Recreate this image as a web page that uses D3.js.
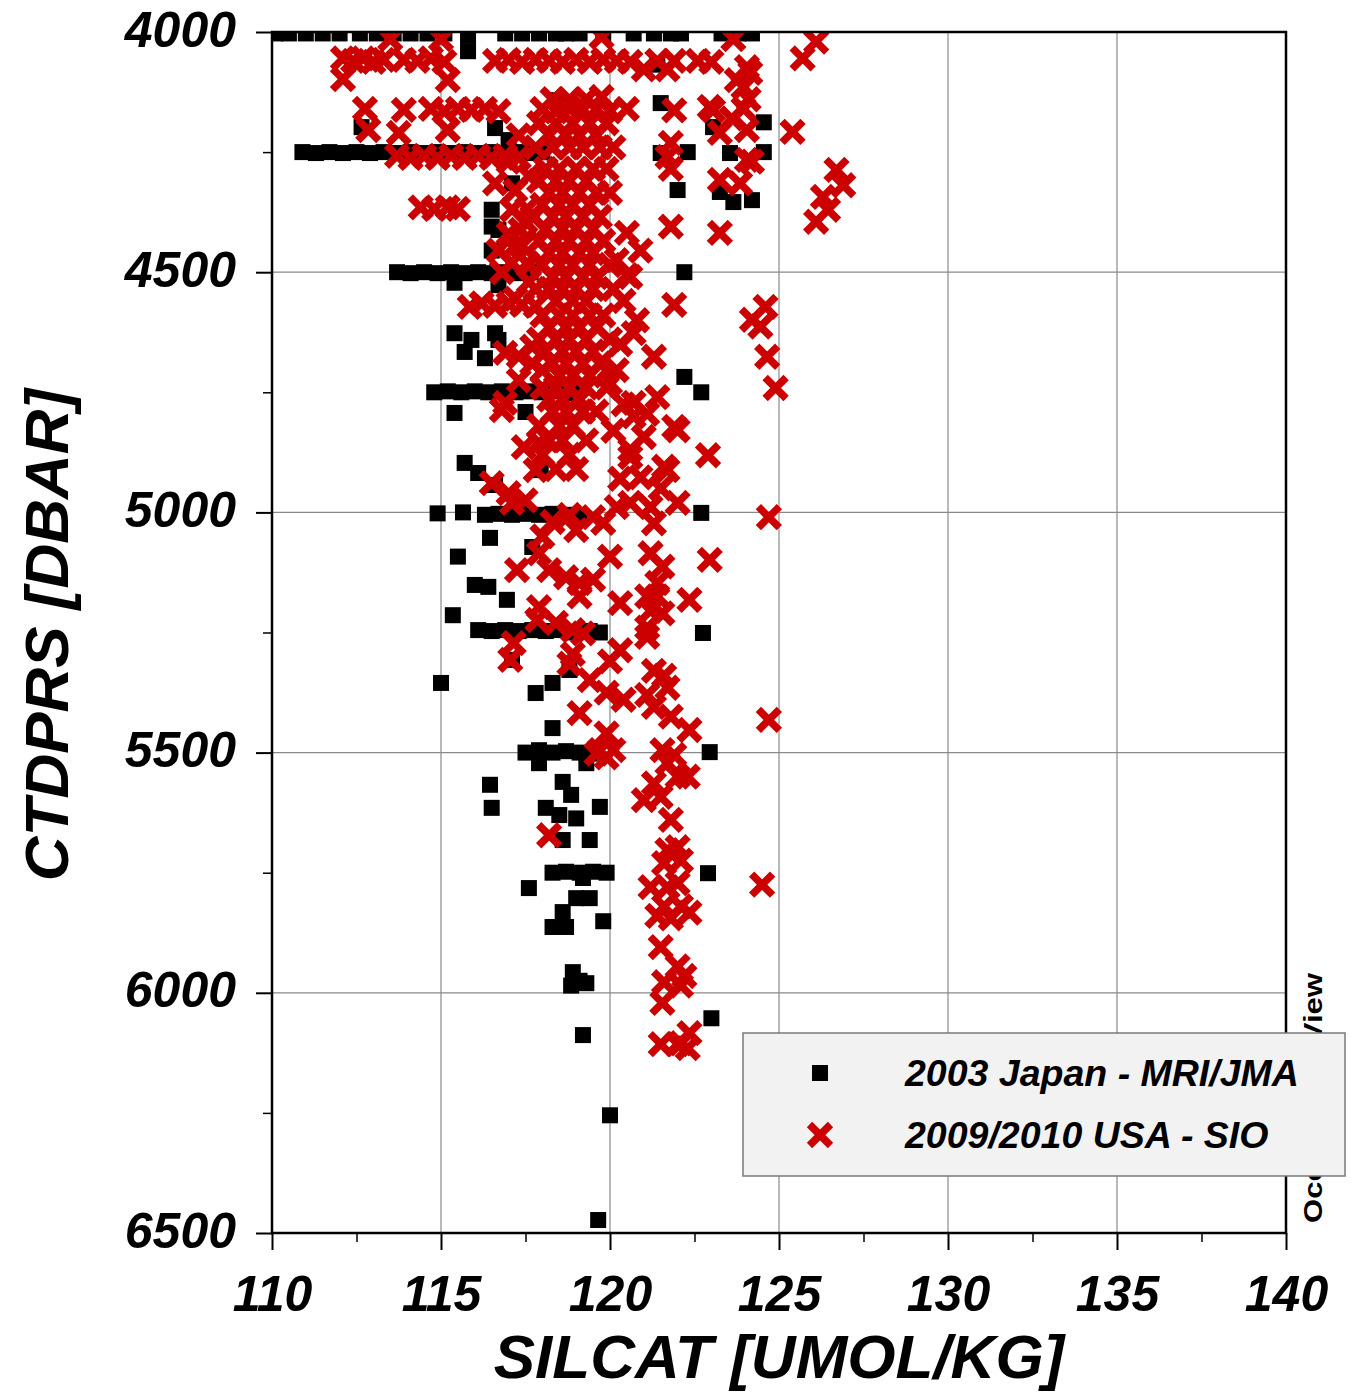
<!DOCTYPE html>
<html>
<head>
<meta charset="utf-8">
<script src="https://cdn.jsdelivr.net/npm/d3@7"></script>
<style>
  body { margin: 0; background: #fff; }
  .tick text { font-family: "Liberation Sans", Arial, sans-serif; font-weight: bold; font-style: italic; font-size: 50px; fill: #000; }
  .grid line { stroke: #8a8a8a; stroke-width: 1.2; }
</style>
</head>
<body>
<script>
// axis ticks
var xTicks = [110, 115, 120, 125, 130, 135, 140];
var xMinor = [112.5, 117.5, 122.5, 127.5, 132.5, 137.5];
var yTicks = [4000, 4500, 5000, 5500, 6000, 6500];
var yMinor = [4250, 4750, 5250, 5750, 6250];

var seriesNames = ["2003 Japan - MRI/JMA", "2009/2010 USA - SIO"];

// [SILCAT, CTDPRS]
var japanPoints = [
  [110.1,4003],[110.5,4003],[111.0,4003],[111.5,4003],[112.0,4003],[112.6,4003],[113.1,4003],[113.6,4003],
  [114.1,4003],[114.6,4003],[115.1,4003],[115.8,4008],[115.8,4040],[116.9,4003],[117.4,4003],[117.9,4003],
  [118.4,4003],[118.7,4003],[119.1,4003],[119.8,4003],[120.7,4003],[121.3,4003],[121.8,4003],[122.1,4003],
  [123.3,4003],[123.8,4003],[124.2,4003],
  [121.4,4068],[121.5,4148],[118.45,4142],[112.65,4198],[121.5,4252],[122.3,4250],[123.55,4252],[124.55,4250],
  [122.0,4329],[123.25,4333],[123.65,4354],[124.2,4350],[122.2,4500],[123.05,4198],[124.55,4188],
  [116.6,4200],[117.0,4225],[117.1,4315],[116.5,4370],[116.5,4405],[116.7,4412],[116.5,4455],
  [110.9,4250],[111.3,4252],[111.7,4250],[112.1,4252],[112.5,4250],[112.9,4252],[113.3,4250],[113.7,4252],
  [114.1,4250],[114.5,4252],[114.9,4250],[115.3,4252],[115.7,4250],[116.1,4252],[116.5,4250],[116.9,4252],
  [117.3,4250],[117.7,4252],[118.0,4250],
  [113.7,4500],[114.1,4502],[114.5,4500],[114.9,4502],[115.3,4500],[115.7,4502],[116.1,4500],[116.5,4502],
  [116.9,4500],[117.3,4502],[117.65,4500],[115.4,4522],[116.7,4527],
  [115.4,4627],[115.9,4641],[115.7,4666],[116.3,4679],[116.6,4627],[116.7,4641],
  [114.8,4750],[115.2,4748],[115.6,4750],[116.0,4748],[116.4,4750],[116.8,4748],[117.2,4750],[117.6,4748],
  [118.0,4750],[118.4,4748],[118.8,4750],[119.0,4752],
  [115.4,4793],[117.5,4791],[122.2,4718],[122.7,4750],
  [115.7,4897],[116.1,4918],[116.6,4943],[117.95,4912],
  [114.9,5002],[115.65,5000],[116.3,5005],[116.7,5003],[117.1,5005],[117.5,5003],[117.9,5005],[118.3,5003],
  [118.7,5005],[119.1,5008],[122.7,5001],
  [116.45,5053],[117.7,5072],[115.5,5092],[116.0,5151],[116.4,5155],[116.95,5182],[115.35,5214],
  [116.1,5245],[116.5,5247],[116.9,5245],[117.3,5247],[117.7,5245],[118.1,5247],[118.5,5245],[118.9,5250],
  [119.4,5247],[119.7,5250],[122.75,5251],
  [117.1,5307],[118.8,5328],[115.0,5355],[117.8,5376],[118.3,5355],[118.3,5449],
  [117.5,5500],[117.9,5495],[118.3,5500],[118.7,5497],[119.1,5500],[119.4,5502],[122.95,5499],
  [117.9,5522],[119.3,5522],[116.45,5567],[116.5,5615],[118.6,5561],[118.85,5588],[119.7,5613],
  [118.1,5615],[118.5,5630],[119.0,5637],[118.6,5682],[119.4,5682],
  [118.3,5750],[118.7,5748],[119.1,5750],[119.5,5748],[119.9,5750],[119.2,5761],
  [117.6,5782],[119.0,5803],[119.4,5803],[118.6,5832],[118.3,5863],[118.7,5863],[119.8,5851],[122.9,5751],
  [118.9,5957],[119.3,5980],[118.85,5985],[119.1,5975],[119.2,6088],[123.0,6053],[120.0,6255],[119.65,6473]
];

var usaPoints = [
  [113.5,4015],[115.0,4015],[119.75,4010],[123.65,4015],[126.1,4020],
  [112.1,4055],[112.4,4060],[112.7,4055],[113.0,4062],[113.3,4058],[112.1,4098],
  [113.9,4058],[114.3,4060],[114.7,4055],[115.1,4062],[115.2,4100],
  [116.6,4060],[117.0,4058],[117.4,4062],[117.8,4058],[118.2,4060],[118.6,4062],[119.0,4058],[119.4,4062],
  [119.8,4058],[120.2,4060],[120.6,4062],
  [121.0,4078],[121.4,4060],[121.7,4078],[121.9,4060],[122.6,4060],[123.0,4062],[124.05,4073],[123.75,4100],
  [125.7,4055],
  [112.75,4160],[113.9,4162],[114.7,4160],[115.1,4165],[115.5,4160],[115.9,4162],[116.3,4160],[116.7,4165],
  [112.85,4204],[113.75,4210],[115.2,4204],
  [118.0,4160],[118.4,4165],[118.8,4160],[119.2,4162],[119.6,4160],[120.0,4165],[120.5,4160],[119.75,4135],
  [121.9,4163],[123.05,4163],[123.95,4160],[123.25,4210],[124.05,4204],[123.95,4115],[124.15,4085],
  [122.95,4156],[124.1,4140],[123.6,4180],[125.4,4208],
  [113.7,4258],[114.1,4262],[114.5,4258],[114.9,4262],[115.3,4258],[115.7,4262],[116.1,4258],[116.5,4262],
  [116.9,4258],[117.3,4262],[117.0,4270],
  [121.7,4260],[121.8,4231],[121.8,4285],[123.25,4308],[124.05,4266],[123.85,4315],[124.2,4270],
  [114.4,4365],[114.8,4368],[115.2,4365],[115.5,4368],
  [116.6,4315],[117.1,4370],[116.7,4455],[117.55,4368],[117.75,4385],[117.35,4412],[117.15,4448],[117.55,4481],
  [117.3,4215],[117.6,4300],[117.2,4330],[117.5,4395],[117.0,4420],[117.4,4445],[117.1,4480],[116.8,4500],
  [117.6,4520],[117.2,4555],
  [121.8,4405],[123.25,4418],[120.5,4418],[120.9,4455],[120.2,4475],[120.6,4510],
  [126.7,4287],[126.9,4319],[126.3,4343],[126.45,4370],[126.1,4395],
  [124.6,4572],[124.2,4599],[124.45,4613],[124.65,4676],[124.9,4741],
  // dense column
  [118.3,4140],[118.8,4140],[119.3,4140],
  [117.9,4190],[118.4,4190],[118.9,4190],[119.4,4190],[119.9,4190],
  [118.2,4215],[118.7,4215],[119.1,4215],[119.6,4215],
  [117.8,4240],[118.3,4240],[118.8,4240],[119.2,4240],[119.7,4240],[120.1,4240],
  [118.1,4285],[118.5,4285],[119.0,4285],[119.5,4285],[119.9,4285],
  [117.9,4310],[118.4,4310],[118.8,4310],[119.3,4310],
  [118.2,4335],[118.6,4335],[119.1,4335],[119.6,4335],[120.0,4335],
  [118.0,4360],[118.5,4360],[118.9,4360],[119.4,4360],
  [117.7,4385],[118.3,4385],[118.7,4385],[119.2,4385],[119.7,4385],
  [118.1,4410],[118.6,4410],[119.0,4410],[119.5,4410],
  [117.9,4435],[118.4,4435],[118.8,4435],[119.3,4435],[119.8,4435],
  [118.2,4460],[118.6,4460],[119.1,4460],[119.5,4460],
  [117.6,4485],[118.0,4485],[118.5,4485],[118.9,4485],[119.4,4485],[120.0,4485],
  [118.3,4510],[118.7,4510],[119.2,4510],[119.6,4510],
  [117.8,4535],[118.2,4535],[118.6,4535],[119.0,4535],[119.5,4535],[120.1,4535],
  [118.4,4560],[118.9,4560],[119.3,4560],
  [118.0,4590],[118.5,4590],[118.9,4590],[119.4,4590],[119.8,4590],
  [118.2,4615],[118.7,4615],[119.1,4615],[119.6,4615],
  [117.9,4640],[118.4,4640],[118.8,4640],[119.3,4640],[120.0,4640],
  [118.1,4665],[118.6,4665],[119.0,4665],[119.5,4665],
  [117.7,4690],[118.3,4690],[118.7,4690],[119.2,4690],[119.7,4690],
  [118.5,4715],[118.9,4715],[119.4,4715],
  [118.0,4740],[118.4,4740],[118.8,4740],[119.3,4740],[119.9,4740],
  [118.2,4765],[118.6,4765],[119.1,4765],
  [118.3,4790],[118.7,4790],[119.2,4790],[119.6,4790],
  [117.9,4820],[118.5,4820],[118.9,4820],
  [118.2,4850],[118.6,4850],[119.3,4850],
  [118.0,4880],[118.8,4880],[118.4,4910],[119.0,4910],
  // left of column, 4550-5000
  [115.85,4572],[116.2,4565],[116.6,4570],[117.0,4565],[117.4,4568],[117.8,4570],
  [116.9,4668],[117.3,4675],[117.7,4655],[118.0,4704],[117.3,4725],[116.9,4772],[116.8,4787],
  [116.5,4939],[117.0,4960],[117.1,4980],[117.5,4975],[117.8,4912],[117.45,4864],[117.9,4855],
  // right of column, 4500-5000
  [120.5,4506],[121.9,4568],[120.8,4600],[120.7,4627],[121.3,4676],[122.0,4829],[122.9,4881],[121.7,4912],
  [121.0,4843],[120.6,4885],[120.9,4927],[122.0,4980],[121.2,4989],[120.6,4980],[120.2,4989],[124.7,5010],
  [120.2,4704],[120.0,4731],[120.7,4772],[120.7,4800],[120.3,4650],[120.4,4560],[120.1,4830],[120.3,4930],
  [121.5,4950],[120.4,4775],[121.1,4795],[121.4,4760],[120.6,4870],[121.9,4822],[121.6,4905],
  // 5000-5500
  [119.0,5037],[118.3,5020],[118.8,5005],[119.5,5010],[118.0,5050],[119.8,5022],[121.3,5023],
  [120.0,5092],[121.2,5085],[121.55,5113],[121.4,5147],[121.1,5175],[121.2,5205],[121.4,5175],[121.55,5210],
  [121.1,5240],[121.1,5259],[122.35,5182],[122.95,5099],
  [117.25,5120],[117.9,5085],[118.2,5120],[118.7,5135],[119.1,5147],[119.5,5140],[117.9,5197],[119.1,5175],
  [120.3,5189],[117.85,5224],[118.4,5230],[118.9,5245],[119.2,5252],[117.15,5272],[117.05,5307],[118.9,5295],
  [118.8,5315],[120.0,5310],[120.3,5287],[119.4,5349],[119.9,5375],[120.4,5390],[119.1,5418],[119.9,5460],
  [121.3,5330],[121.6,5340],[121.7,5365],[121.1,5380],[121.3,5405],[121.8,5425],[122.35,5453],[121.55,5495],
  [121.9,5505],[119.7,5495],[120.1,5495],[124.7,5432],
  // 5500-6150
  [119.9,5510],[119.6,5502],[121.7,5522],[122.0,5550],[122.3,5550],[121.3,5564],[121.0,5599],[121.5,5592],
  [121.8,5640],[118.2,5672],[121.7,5703],[122.0,5697],[121.6,5730],[122.1,5725],[121.2,5780],[121.7,5780],
  [122.0,5772],[121.6,5820],[122.1,5820],[122.35,5833],[121.4,5840],[121.8,5845],[121.5,5905],[122.0,5945],
  [122.2,5965],[121.6,5978],[122.1,5985],[121.55,6021],[122.35,6084],[122.1,6105],[121.5,6107],[122.0,6107],
  [122.3,6115],[124.5,5775]
];

// set the dimensions and margins of the graph
var margin = {top: 32, right: 65, bottom: 164, left: 272},
    width = 1351 - margin.left - margin.right,
    height = 1397 - margin.top - margin.bottom;

var x = d3.scaleLinear().domain([110, 140]).range([0, width]);
var y = d3.scaleLinear().domain([4000, 6500]).range([0, height]);

var svg = d3.select("body").append("svg")
    .attr("width", 1351)
    .attr("height", 1397)
  .append("g")
    .attr("transform", "translate(" + margin.left + "," + margin.top + ")");

// grid
svg.append("g").attr("class", "grid")
  .selectAll("line").data(xTicks.slice(1, -1)).enter().append("line")
    .attr("x1", function(d) { return x(d); }).attr("x2", function(d) { return x(d); })
    .attr("y1", 0).attr("y2", height);
svg.append("g").attr("class", "grid")
  .selectAll("line").data(yTicks.slice(1, -1)).enter().append("line")
    .attr("y1", function(d) { return y(d); }).attr("y2", function(d) { return y(d); })
    .attr("x1", 0).attr("x2", width);

// points, clipped to the frame
svg.append("clipPath").attr("id", "plotclip")
  .append("rect").attr("width", width).attr("height", height);

var marks = svg.append("g").attr("clip-path", "url(#plotclip)");

var sq = 16;
marks.selectAll(".jp").data(japanPoints).enter().append("rect")
    .attr("class", "jp")
    .attr("x", function(d) { return x(d[0]) - sq / 2; })
    .attr("y", function(d) { return y(d[1]) - sq / 2; })
    .attr("width", sq).attr("height", sq)
    .attr("fill", "#000");

var cross = "M-10.5,-10.5L10.5,10.5M-10.5,10.5L10.5,-10.5";
marks.selectAll(".us").data(usaPoints).enter().append("path")
    .attr("class", "us")
    .attr("transform", function(d) { return "translate(" + x(d[0]) + "," + y(d[1]) + ")"; })
    .attr("d", cross)
    .attr("stroke", "#cc0000")
    .attr("stroke-width", 7.5)
    .attr("fill", "none");

// axes
var xAxis = svg.append("g")
    .attr("transform", "translate(0," + height + ")")
    .call(d3.axisBottom(x).tickValues(xTicks).tickSize(17).tickPadding(25).tickFormat(d3.format("d")));
xAxis.select(".domain").remove();
xAxis.selectAll(".tick line").attr("stroke-width", 2);

var xAxisMinor = svg.append("g")
    .attr("transform", "translate(0," + height + ")")
    .call(d3.axisBottom(x).tickValues(xMinor).tickSize(9).tickFormat(""));
xAxisMinor.select(".domain").remove();
xAxisMinor.selectAll(".tick line").attr("stroke-width", 1.5);

var yAxis = svg.append("g")
    .call(d3.axisLeft(y).tickValues(yTicks).tickSize(16).tickPadding(20).tickFormat(d3.format("d")));
yAxis.select(".domain").remove();
yAxis.selectAll(".tick line").attr("stroke-width", 2);
yAxis.selectAll(".tick text").attr("dy", "0.28em");

var yAxisMinor = svg.append("g")
    .call(d3.axisLeft(y).tickValues(yMinor).tickSize(9).tickFormat(""));
yAxisMinor.select(".domain").remove();
yAxisMinor.selectAll(".tick line").attr("stroke-width", 1.5);

// frame
svg.append("rect")
    .attr("width", width).attr("height", height)
    .attr("fill", "none").attr("stroke", "#000").attr("stroke-width", 2.5);

// axis titles
svg.append("text")
    .attr("x", 779 - margin.left)
    .attr("y", 1378 - margin.top)
    .style("text-anchor", "middle")
    .attr("font-family", "Liberation Sans, Arial, sans-serif")
    .attr("font-weight", "bold").attr("font-style", "italic")
    .attr("font-size", 62)
    .text("SILCAT [UMOL/KG]");

svg.append("text")
    .attr("transform", "translate(" + (68 - margin.left) + "," + (635 - margin.top) + ") rotate(-90)")
    .style("text-anchor", "middle")
    .attr("font-family", "Liberation Sans, Arial, sans-serif")
    .attr("font-weight", "bold").attr("font-style", "italic")
    .attr("font-size", 62)
    .text("CTDPRS [DBAR]");

// watermark
svg.append("text")
    .attr("transform", "translate(" + (1322 - margin.left) + "," + (1223 - margin.top) + ") rotate(-90)")
    .attr("font-family", "Liberation Sans, Arial, sans-serif")
    .attr("font-weight", "bold")
    .attr("font-size", 25)
    .attr("textLength", 250)
    .attr("lengthAdjust", "spacingAndGlyphs")
    .text("Ocean Data View");

// legend
var legend = svg.append("g")
    .attr("transform", "translate(" + (743 - margin.left) + "," + (1033 - margin.top) + ")");

legend.append("rect")
    .attr("width", 602).attr("height", 143)
    .attr("fill", "#f2f2f2").attr("stroke", "#7a7a7a").attr("stroke-width", 1.5);

legend.append("rect")
    .attr("x", 77 - sq / 2).attr("y", 40 - sq / 2)
    .attr("width", sq).attr("height", sq).attr("fill", "#000");

legend.append("path")
    .attr("transform", "translate(77,102)")
    .attr("d", cross)
    .attr("stroke", "#cc0000").attr("stroke-width", 7.5).attr("fill", "none");

legend.selectAll(".lab").data(seriesNames).enter().append("text")
    .attr("class", "lab")
    .attr("x", 162)
    .attr("y", function(d, i) { return 53 + i * 62; })
    .attr("font-family", "Liberation Sans, Arial, sans-serif")
    .attr("font-weight", "bold").attr("font-style", "italic")
    .attr("font-size", 37.5)
    .text(function(d) { return d; });
</script>
</body>
</html>
